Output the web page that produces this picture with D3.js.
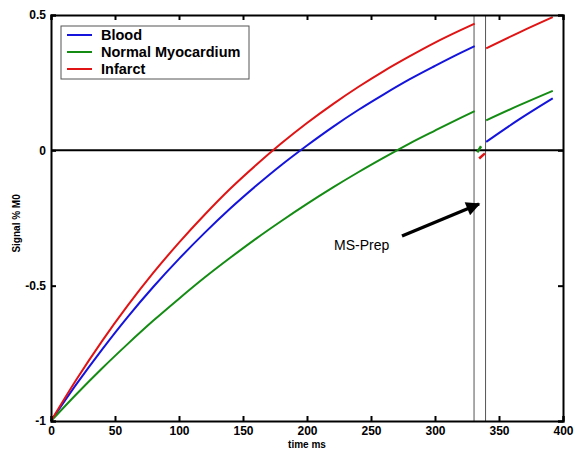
<!DOCTYPE html>
<html>
<head>
<meta charset="utf-8">
<script src="https://cdn.jsdelivr.net/npm/d3@7"></script>
<style>
  body { margin: 0; background: #fff; }
  svg text { font-family: "Liberation Sans", Arial, sans-serif; }
</style>
</head>
<body>
<div id="chart"></div>
<script>
// time samples (ms)
var timeBefore = [0, 20, 40, 60, 80, 100, 120, 140, 160, 180, 200, 220, 240, 260, 280, 300, 320, 331]
var bloodBefore = [-1, -0.863, -0.735, -0.615, -0.504, -0.401, -0.305, -0.215, -0.132, -0.054, 0.018, 0.086, 0.149, 0.207, 0.262, 0.312, 0.36, 0.385]
var myoBefore = [-1, -0.9, -0.805, -0.715, -0.629, -0.548, -0.47, -0.397, -0.327, -0.261, -0.198, -0.138, -0.081, -0.027, 0.025, 0.073, 0.12, 0.145]
var infarctBefore = [-1, -0.846, -0.704, -0.573, -0.452, -0.341, -0.238, -0.142, -0.055, 0.026, 0.101, 0.17, 0.234, 0.293, 0.347, 0.398, 0.444, 0.468]

var timeAfter = [340, 366, 392]
var bloodAfter = [0.031, 0.115, 0.192]
var myoAfter = [0.111, 0.167, 0.22]
var infarctAfter = [0.377, 0.436, 0.492]

// short marks inside the MS-Prep window
var myoPrep = [{ t: 333, v: -0.007 }, { t: 336, v: 0.015 }]
var infarctPrep = [{ t: 334.5, v: -0.03 }, { t: 339, v: -0.011 }]

var prepWindow = [330.5, 339.5]
var xTicks = [0, 50, 100, 150, 200, 250, 300, 350, 400]
var yTicks = [-1, -0.5, 0, 0.5]
var seriesNames = ["Blood", "Normal Myocardium", "Infarct"]
var seriesColors = ["#1414dc", "#148c14", "#e01414"]

var width = 574, height = 451
var margin = { top: 15, right: 11, bottom: 30, left: 51 }

var svg = d3.select("#chart").append("svg")
  .attr("width", width)
  .attr("height", height)

var x = d3.scaleLinear().domain([0, 400]).range([margin.left, width - margin.right])
var y = d3.scaleLinear().domain([-1, 0.5]).range([height - margin.bottom, margin.top])

var line = d3.line()
  .x(function(d) { return x(d.t) })
  .y(function(d) { return y(d.v) })
  .curve(d3.curveMonotoneX)

function zipSeries(ts, vs) {
  return ts.map(function(t, i) { return { t: t, v: vs[i] } })
}

// MS-Prep window lines
prepWindow.forEach(function(t) {
  svg.append("line")
    .attr("x1", x(t)).attr("x2", x(t))
    .attr("y1", y(0.5)).attr("y2", y(-1))
    .style("stroke", "#555")
    .style("stroke-width", 1)
})

// zero line
svg.append("line")
  .attr("x1", x(0)).attr("x2", x(400))
  .attr("y1", y(0)).attr("y2", y(0))
  .style("stroke", "#000")
  .style("stroke-width", 2)

var before = [bloodBefore, myoBefore, infarctBefore]
var after = [bloodAfter, myoAfter, infarctAfter]

before.forEach(function(vals, i) {
  svg.append("path")
    .datum(zipSeries(timeBefore, vals))
    .attr("d", line)
    .style("fill", "none")
    .style("stroke", seriesColors[i])
    .style("stroke-width", 2)
})
after.forEach(function(vals, i) {
  svg.append("path")
    .datum(zipSeries(timeAfter, vals))
    .attr("d", line)
    .style("fill", "none")
    .style("stroke", seriesColors[i])
    .style("stroke-width", 2)
})
svg.append("path").datum(myoPrep).attr("d", line)
  .style("fill", "none").style("stroke", seriesColors[1]).style("stroke-width", 2.5)
svg.append("path").datum(infarctPrep).attr("d", line)
  .style("fill", "none").style("stroke", seriesColors[2]).style("stroke-width", 2.5)

// axes with inward ticks on all four sides
var fmt = function(d) { return String(d) }
svg.append("g")
  .attr("transform", "translate(0," + y(-1) + ")")
  .call(d3.axisBottom(x).tickValues(xTicks).tickSize(-5).tickPadding(5).tickFormat(fmt))
svg.append("g")
  .attr("transform", "translate(0," + y(0.5) + ")")
  .call(d3.axisTop(x).tickValues(xTicks).tickSize(-5).tickFormat(""))
svg.append("g")
  .attr("transform", "translate(" + x(0) + ",0)")
  .call(d3.axisLeft(y).tickValues(yTicks).tickSize(-5).tickPadding(5).tickFormat(fmt))
svg.append("g")
  .attr("transform", "translate(" + x(400) + ",0)")
  .call(d3.axisRight(y).tickValues(yTicks).tickSize(-5).tickFormat(""))

svg.selectAll(".domain").style("stroke", "#000").style("stroke-width", 2)
svg.selectAll(".tick line").style("stroke", "#000").style("stroke-width", 2)
svg.selectAll(".tick text")
  .style("font-size", "12px")
  .style("font-weight", "bold")
  .style("fill", "#000")

// axis titles
svg.append("text")
  .attr("x", x(200)).attr("y", height - 3)
  .attr("text-anchor", "middle")
  .style("font-size", "10px")
  .style("font-weight", "bold")
  .text("time ms")
svg.append("text")
  .attr("transform", "translate(20," + y(-0.27) + ") rotate(-90)")
  .attr("text-anchor", "middle")
  .style("font-size", "10px")
  .style("font-weight", "bold")
  .text("Signal % M0")

// legend
var legend = svg.append("g").attr("transform", "translate(61,26)")
legend.append("rect")
  .attr("width", 188).attr("height", 53)
  .style("fill", "#fff")
  .style("stroke", "#555")
  .style("stroke-width", 1)
seriesNames.forEach(function(name, i) {
  var ly = 9 + i * 17
  legend.append("line")
    .attr("x1", 6).attr("x2", 31)
    .attr("y1", ly).attr("y2", ly)
    .style("stroke", seriesColors[i])
    .style("stroke-width", 2)
  legend.append("text")
    .attr("x", 40).attr("y", ly + 5)
    .style("font-size", "14.5px")
    .style("font-weight", "bold")
    .text(name)
})

// MS-Prep annotation
svg.append("defs").append("marker")
  .attr("id", "arrow")
  .attr("viewBox", "0 0 10 10")
  .attr("refX", 9).attr("refY", 5)
  .attr("markerWidth", 5).attr("markerHeight", 4)
  .attr("orient", "auto")
  .append("path")
  .attr("d", "M0,0 L10,5 L0,10 z")
  .style("fill", "#000")
svg.append("line")
  .attr("x1", 402).attr("y1", 236)
  .attr("x2", 479).attr("y2", 204)
  .style("stroke", "#000")
  .style("stroke-width", 3.5)
  .attr("marker-end", "url(#arrow)")
svg.append("text")
  .attr("x", 334).attr("y", 250)
  .style("font-size", "14px")
  .text("MS-Prep")
</script>
</body>
</html>
